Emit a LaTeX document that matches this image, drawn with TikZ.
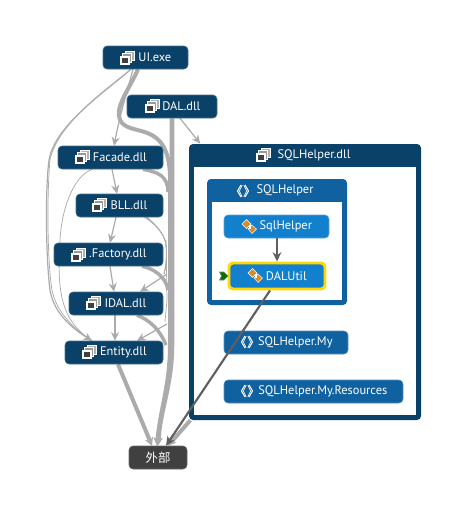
\documentclass[tikz,border=0pt]{standalone}
\usepackage{fontspec}
\setmainfont{PT Sans}
\newfontfamily\cjkf{Noto Sans CJK SC}
\usetikzlibrary{arrows.meta,backgrounds}
\definecolor{navy}{HTML}{0A4168}
\definecolor{nsblue}{HTML}{10619F}
\definecolor{clblue}{HTML}{1280CC}
\definecolor{edgegray}{HTML}{ABABAB}
\definecolor{darkedge}{HTML}{5F5F5F}
\definecolor{extgray}{HTML}{404040}
\definecolor{gold}{HTML}{FFD800}
\definecolor{iconorange}{HTML}{D98A2B}
\tikzset{
  px/.style={xshift=#1*.75pt},
  boxbase/.style={rectangle,rounded corners=3pt,inner sep=0pt,text=white,font=\fontsize{9.3}{11}\selectfont,anchor=center},
  navybox/.style={boxbase,fill=navy,draw=navy!75!white,line width=.4pt},
  nsbox/.style={boxbase,fill=nsblue,draw=nsblue!70!white,line width=.4pt},
  clbox/.style={boxbase,fill=clblue,draw=clblue!70!white,line width=.4pt},
  extbox/.style={boxbase,fill=extgray,draw=extgray!80!white,line width=.4pt},
  goldbox/.style={boxbase,fill=clblue,draw=gold,line width=2.2pt},
  holder/.style={rectangle,rounded corners=3pt,inner sep=0pt},
  plain/.style={inner sep=0pt,text=white,font=\fontsize{9.3}{11}\selectfont},
  thinedge/.style={draw=edgegray,line width=.9pt,-{Stealth[length=6.5pt,width=6pt]}},
  hair/.style={draw=edgegray,line width=.55pt},
  thickedge/.style={draw=edgegray,line width=2.6pt},
  heavyarrow/.style={draw=edgegray,line width=3pt,-{Stealth[length=6pt,width=6.5pt]}},
  darkarrow/.style={draw=darkedge,line width=1.6pt,-{Stealth[length=7pt,width=6.5pt]}},
  asm/.pic={
    \fill[gray!60,draw=white,line width=.3pt] (-2,-7) rectangle (7,2);
    \fill[gray!80,draw=white,line width=.3pt] (-4.5,-5) rectangle (4.5,4.5);
    \fill[white] (-7,-2.5) rectangle (2.5,7);
    \fill[gray!50!black] (-5,-.5) rectangle (.5,5);
  },
  nsicon/.pic={
    \draw[white,line width=.8pt,line join=round] (-2,-6) -- (-5.5,0) -- (-2,6);
    \draw[white,line width=.5pt,line join=round] (-.8,-6) -- (-3.6,0) -- (-.8,6);
    \draw[white,line width=.8pt,line join=round] (2,-6) -- (5.5,0) -- (2,6);
    \draw[white,line width=.5pt,line join=round] (.8,-6) -- (3.6,0) -- (.8,6);
  },
  clicon/.pic={
    \fill[iconorange,draw=white,line width=.3pt] (-7,-2) -- (-2.5,-6.5) -- (2,-2) -- (-2.5,2.5) -- cycle;
    \fill[iconorange,draw=white,line width=.3pt] (-1,3) -- (3,-1) -- (7.5,3) -- (3,7.5) -- cycle;
    \fill[white] (-.3,-1) rectangle (1.6,3);
  }
}
\newcommand{\bx}[7]{\node[#1,minimum width={(#5-#3)*.75pt},minimum height={(#6-#4)*.75pt}] (#2) at ({(#3+#5)/2},{(#4+#6)/2}) {#7};}
\begin{document}
\begin{tikzpicture}[x=.75pt,y=-.75pt]
\useasboundingbox (0,0) rectangle (466,515);
% containers
\bx{holder,fill=navy}{dll}{189}{144}{421}{420}{}
\fill[white] (194,167) rectangle (416,415);
\node[plain] (dlllabel) at (314,155.5) {SQLHelper.dll};
\bx{holder,fill=nsblue}{ns}{207}{179}{347}{305}{}
\fill[white] (212,202) rectangle (342,300);
\node[plain] (nslabel) at (285,190.5) {SQLHelper};
% boxes
\bx{navybox}{ui}{103}{46}{188}{69}{\hspace*{14pt}UI.exe}
\bx{navybox}{dal}{127}{95}{217}{118}{\hspace*{14pt}DAL.dll}
\bx{navybox}{facade}{58}{146}{163}{169}{\hspace*{14pt}Facade.dll}
\bx{navybox}{bll}{76}{194}{163}{217}{\hspace*{14pt}BLL.dll}
\bx{navybox}{factory}{54}{243}{163}{266}{\hspace*{14pt}.Factory.dll}
\bx{navybox}{idal}{69}{292}{163}{315}{\hspace*{14pt}IDAL.dll}
\bx{navybox}{entity}{65}{341}{163}{364}{\hspace*{14pt}Entity.dll}
\bx{extbox}{ext}{129}{446}{187}{469}{\cjkf 外部}
\bx{clbox}{sql}{224}{215}{329}{238}{\hspace*{14pt}SqlHelper}
\bx{goldbox}{util}{229}{263}{325}{289}{\hspace*{14pt}DALUtil}
\bx{nsbox}{my}{224}{331}{348}{354}{\hspace*{14pt}SQLHelper.My}
\bx{nsbox}{res}{224}{380}{403}{403}{\hspace*{14pt}SQLHelper.My.Resources}
% icons
\pic at (127,58) {asm};
\pic at (152,106) {asm};
\pic at (82,157) {asm};
\pic at (99,205) {asm};
\pic at (78,255) {asm};
\pic at (93,303) {asm};
\pic at (89,352) {asm};
\pic at (263,155) {asm};
\pic at (243,191) {nsicon};
\pic at (249,226) {clicon};
\pic at (255,275) {clicon};
\pic at (247,342) {nsicon};
\pic at (247,391) {nsicon};
% green marker
\fill[green!45!black,draw=gray,line width=.4pt] (219.5,272) -- (224,272) -- (228,276) -- (224,280) -- (219.5,280) -- (221.5,276) -- cycle;
% grey edges behind everything
\begin{scope}[on background layer]
  \fill[white] (0,0) rectangle (466,515);
  % trunks into the external node
  \draw[heavyarrow,line width=3.4pt] (dal.south) -- (172,345) .. controls (172,385) and (160,410) .. ([px=0]ext.north);
  \draw[heavyarrow] ([px=-7.5]ui.south) .. controls (128,92) and (112,110) .. (122,123)
     .. controls (134,136) and (168,122) .. (170,175) -- (170,345) .. controls (170,385) and (160,410) .. ([px=-1]ext.north);
  \draw[heavyarrow] ([px=4]entity.south) -- ([px=-6]ext.north);
  \draw[heavyarrow] ([px=-231]dll.south east) -- ([px=10]ext.north);
  % UI to Facade
  \draw[thinedge] ([px=-12.5]ui.south) .. controls (126,95) and (120,115) .. ([px=3.5]facade.north);
  % UI left curve to Entity
  \draw[thinedge] ([px=-14.5]ui.south) .. controls (105,92) and (55,125) .. (49,160)
     .. controls (45,190) and (46,260) .. (50,290) .. controls (54,315) and (75,330) .. ([px=-22]entity.north);
  \draw[hair] ([px=-14.5]ui.south) .. controls (105,90) and (57,125) .. (50,160)
     .. controls (47,190) and (47,260) .. (52,290) .. controls (56,312) and (75,330) .. ([px=-22]entity.north);
  % Facade left curve to Entity
  \draw[hair] ([px=-18]facade.south) .. controls (75,175) and (62,205) .. (60,240)
     .. controls (57,290) and (60,320) .. ([px=-22]entity.north);
  % DAL to dll
  \draw[thinedge] ([px=8]dal.south) -- ([px=-221]dll.north east);
  % chain
  \draw[thinedge] ([px=1.5]facade.south) -- ([px=-2.5]bll.north);
  \draw[thinedge] ([px=-3.5]bll.south) -- ([px=1.5]factory.north);
  \draw[thinedge] ([px=1.5]factory.south) -- ([px=-2]idal.north);
  \draw[thinedge] ([px=-1]idal.south) -- ([px=1]entity.north);
  % branches into the trunk
  \draw[thickedge] ([px=32.5]facade.south) .. controls (158,172) and (168,176) .. (168,192);
  \draw[thickedge] ([px=33.5]factory.south) .. controls (152,268) and (166,276) .. (168,290);
  \draw[thickedge] ([px=21]idal.south) .. controls (150,320) and (160,330) .. (166,345);
  % BLL bundle
  \foreach \d in {0,1.5,3}
    \draw[hair] ([px=18.5+\d]bll.south) .. controls (150,220) and (165,232) .. (166,245) .. controls (167,250) and (167,262) .. (164,274);
  \draw[hair] (166,240) -- (167,300) -- (165,322);
  \draw[thinedge] (167,274) -- ([px=24]idal.north);
  \draw[thinedge] (167,324) -- ([px=23]entity.north);
\end{scope}
% dark edges on top
\draw[darkarrow] (sql.south -| 277,0) -- (util.north -| 277,0);
\draw[darkarrow] ([px=-7]util.south) -- ([px=8]ext.north);
\end{tikzpicture}
\end{document}
